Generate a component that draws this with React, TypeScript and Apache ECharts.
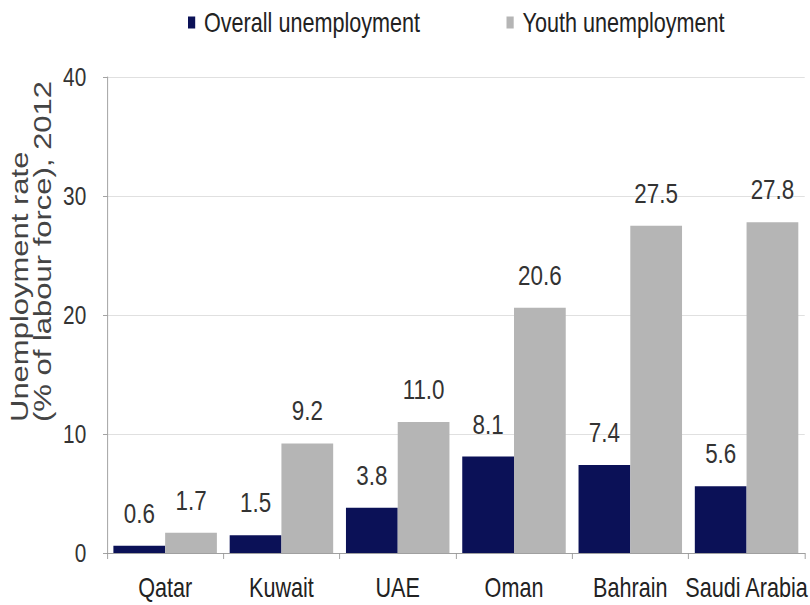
import React, { useEffect, useRef } from "react";
import * as echarts from "echarts";

const categories = ["Qatar", "Kuwait", "UAE", "Oman", "Bahrain", "Saudi Arabia"];
const overall = [0.6, 1.5, 3.8, 8.1, 7.4, 5.6];
const youth = [1.7, 9.2, 11.0, 20.6, 27.5, 27.8];
const seriesNames = ["Overall unemployment", "Youth unemployment"];
const yTitleLines = ["Unemployment rate", "(% of labour force), 2012"];

// the reference is horizontally condensed; draw wider and squeeze with CSS
const S = 0.8;
const W = 810 / S;
const H = 605;
const FONT = "'Liberation Sans', Arial, Helvetica, sans-serif";

export default function App() {
  const ref = useRef<HTMLDivElement>(null);
  useEffect(() => {
    if (!ref.current) return;
    const chart = echarts.init(ref.current, null, { renderer: "svg" });
    const label = {
      show: true,
      position: "top",
      distance: 19,
      fontFamily: FONT,
      fontSize: 28,
      color: "#333",
      formatter: (p: any) => Number(p.value).toFixed(1),
    };
    chart.setOption({
      animation: false,
      backgroundColor: "#fff",
      legend: {
        data: seriesNames,
        left: 184 / S,
        top: 4,
        icon: "rect",
        itemWidth: 9,
        itemHeight: 12,
        itemGap: 108,
        textStyle: { fontFamily: FONT, fontSize: 27, color: "#222", padding: [0, 0, 0, 6] },
      },
      grid: { left: 107 / S, right: 1, top: 77, bottom: 52, containLabel: false },
      xAxis: {
        type: "category",
        data: categories,
        axisLine: { lineStyle: { color: "#999" } },
        axisTick: { show: true, length: 6, lineStyle: { color: "#999" } },
        axisLabel: { interval: 0, margin: 21, fontFamily: FONT, fontSize: 27, color: "#222" },
      },
      yAxis: {
        type: "value",
        min: 0,
        max: 40,
        interval: 10,
        axisLine: { show: true, lineStyle: { color: "#999" } },
        axisTick: { show: true, length: 5, lineStyle: { color: "#999" } },
        splitLine: { lineStyle: { color: "#ddd" } },
        axisLabel: { margin: 26, fontFamily: FONT, fontSize: 26, color: "#333" },
      },
      graphic: yTitleLines.map((t, i) => ({
        type: "text",
        x: (20 + i * 23) / S,
        y: 422,
        rotation: Math.PI / 2,
        style: {
          text: t,
          fontFamily: FONT,
          fontSize: 31,
          fill: "#444",
          align: "left",
          verticalAlign: "middle",
        },
      })),
      series: [
        {
          name: seriesNames[0],
          type: "bar",
          data: overall,
          barGap: "0%",
          barCategoryGap: "11%",
          itemStyle: { color: "#0b1157" },
          label,
        },
        {
          name: seriesNames[1],
          type: "bar",
          data: youth,
          barGap: "0%",
          barCategoryGap: "11%",
          itemStyle: { color: "#b5b5b5" },
          label,
        },
      ],
    });
    return () => chart.dispose();
  }, []);
  return (
    <div style={{ position: "absolute", left: 0, top: 0, width: 810, height: H, overflow: "hidden", background: "#fff" }}>
      <div
        ref={ref}
        style={{ width: W, height: H, transform: `scaleX(${S})`, transformOrigin: "0 0" }}
      />
    </div>
  );
}
